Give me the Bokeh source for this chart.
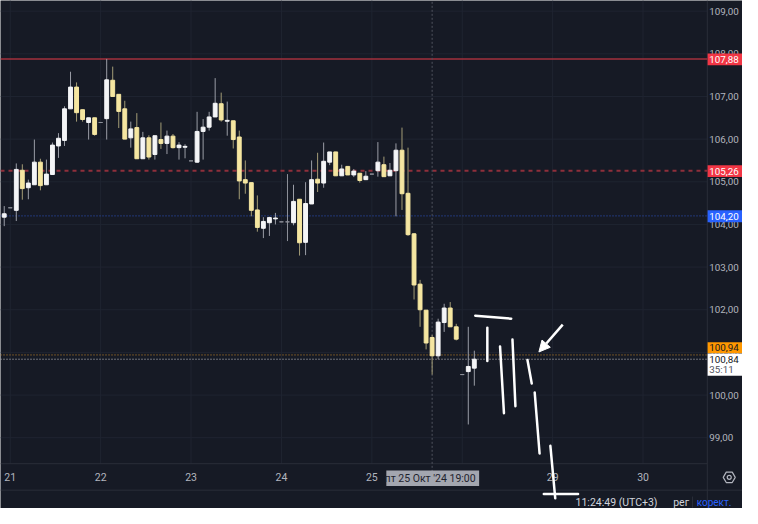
from bokeh.plotting import figure
from bokeh.models import ColumnDataSource, Arrow, NormalHead
from bokeh.core.properties import value
from bokeh.embed import file_html
from bokeh.resources import INLINE

# ---------------- data (hourly candles, index 0 = first visible bar) ----------------
opens = [104.17, 104.39, 104.33, 105.27, 104.86, 104.93, 105.46, 104.93, 105.17, 105.84,
         105.97, 106.71, 107.22, 106.69, 106.39, 106.50, 106.39, 106.48, 107.38, 107.05,
         106.71, 106.03, 106.27, 105.54, 106.03, 105.64, 105.99, 105.90, 106.07, 105.80,
         105.81, 105.49, 105.46, 106.18, 106.28, 106.52, 106.83, 106.42, 106.43, 106.05,
         105.05, 104.98, 104.34, 103.91, 104.04, 104.13, 104.06, 104.06, 104.04, 104.59,
         103.58, 104.48, 105.06, 104.97, 105.46, 105.70, 105.14, 105.36, 105.16, 105.20,
         105.05, 105.18, 105.26, 105.40, 105.14, 105.26, 105.74, 104.73, 103.78, 102.60,
         101.99, 101.35, 100.92, 101.70, 102.04, 101.60, 100.48, 100.55, 100.63]
highs = [104.43, 104.39, 105.43, 105.41, 105.05, 105.99, 105.54, 105.52, 105.92, 106.14,
         106.77, 107.58, 107.33, 106.69, 106.50, 106.50, 106.39, 107.88, 107.70, 107.05,
         106.90, 106.41, 106.61, 106.17, 106.09, 106.08, 106.39, 106.20, 106.12, 105.93,
         105.88, 105.49, 106.64, 106.47, 106.64, 107.43, 107.09, 106.88, 106.43, 106.20,
         105.50, 104.98, 104.68, 104.17, 104.18, 104.27, 104.06, 105.18, 104.93, 104.59,
         104.99, 105.50, 105.68, 105.92, 105.70, 105.70, 105.40, 105.36, 105.30, 105.20,
         105.25, 105.18, 105.93, 105.59, 105.44, 105.90, 106.27, 105.80, 103.80, 102.70,
         101.99, 101.41, 101.79, 102.14, 102.18, 101.67, 100.48, 101.60, 101.04]
lows = [103.96, 104.39, 104.08, 104.58, 104.59, 104.93, 104.80, 104.93, 105.17, 105.56,
        105.84, 106.71, 106.41, 106.41, 105.99, 106.08, 106.39, 105.99, 107.00, 106.26,
        106.00, 105.80, 105.54, 105.54, 105.52, 105.52, 105.77, 105.65, 105.78, 105.52,
        105.55, 105.49, 105.44, 105.52, 106.20, 106.52, 106.41, 106.08, 105.78, 104.59,
        104.72, 104.19, 103.83, 103.68, 103.73, 104.00, 104.06, 103.61, 103.98, 103.27,
        103.28, 104.48, 104.76, 104.86, 105.39, 105.14, 105.14, 105.16, 105.11, 104.98,
        105.04, 105.18, 105.12, 105.12, 105.14, 104.19, 104.34, 103.73, 102.24, 101.60,
        101.07, 100.48, 100.84, 101.48, 101.60, 101.28, 100.48, 99.31, 100.22]
closes = [104.25, 104.39, 105.29, 104.84, 104.97, 105.46, 104.91, 105.18, 105.86, 106.02,
          106.71, 107.22, 106.62, 106.46, 106.50, 106.11, 106.39, 107.39, 107.00, 106.65,
          106.00, 106.24, 105.54, 106.03, 105.58, 106.08, 105.90, 106.07, 105.80, 105.86,
          105.83, 105.49, 106.18, 106.28, 106.52, 106.84, 106.45, 106.44, 105.99, 105.02,
          104.97, 104.33, 103.93, 104.07, 104.16, 104.15, 104.06, 104.06, 104.54, 103.57,
          104.49, 105.05, 104.97, 105.48, 105.70, 105.14, 105.30, 105.16, 105.25, 105.03,
          105.13, 105.18, 105.46, 105.12, 105.27, 105.74, 104.72, 103.76, 102.58, 102.00,
          101.22, 100.92, 101.71, 102.04, 101.60, 101.31, 100.48, 100.67, 100.84]

day_ticks = [1, 16, 31, 46, 61, 76, 91, 106]
day_labels = ["21", "22", "23", "24", "25", "28", "29", "30"]
price_ticks = [99, 100, 101, 102, 103, 104, 105, 106, 107, 108, 109]

level_prices = [107.88, 105.26, 104.20, 100.94, 100.84]
level_tags = ["107,88", "105,26", "104,20", "100,94", "100,84"]
tag_centers = [107.87, 105.25, 104.19, 101.11, 100.84]

crosshair_bar = 71
crosshair_text = "пт 25 Окт '24   19:00"
countdown_text = "35:11"
status_time = "11:24:49 (UTC+3)"
status_session = "рег"
status_adjust = "корект."

# hand-drawn lines (bar index, price)
draw_x0 = [78.16, 80.16, 82.27, 84.33, 86.82, 88.02, 90.62, 89.53]
draw_y0 = [101.86, 101.575, 101.14, 101.30, 100.82, 100.06, 98.81, 97.68]
draw_x1 = [84.12, 80.16, 82.92, 84.82, 87.53, 88.83, 91.43, 95.22]
draw_y1 = [101.79, 100.80, 99.575, 99.74, 100.27, 98.63, 97.58, 97.68]
arrow_from = (92.67, 101.65)
arrow_to = (88.72, 101.01)

# ---------------- layout in data units ----------------
X_LEFT, X_RIGHT = -0.62, 122.5          # whole canvas
Y_BOTTOM, Y_TOP = 97.34, 109.25
CHART_RIGHT = 116.66                    # price scale starts here
CHART_BOTTOM = 98.39                    # time scale starts here
TIME_LABEL_Y = 98.07
STATUS_Y = 97.48
STATUS_LINE_Y = 97.77
PRICE_LABEL_X = 117.0

# ---------------- styling ----------------
BG = "#161a25"
GRID = "#1f2431"
BORDER = "#2a2e39"
TXT = "#b2b5be"
UP = "#f4f5f7"
DOWN = "#f5e6a1"
NEUTRAL = "#8d9099"
FONT = "Roboto"
FS = "10.5px"
FS_PRICE = "9.8px"

body_col, wick_col = [], []
for o, c in zip(opens, closes):
    if c > o:
        body_col.append(UP); wick_col.append("#9a9da6")
    elif c < o:
        body_col.append(DOWN); wick_col.append("#a39c76")
    else:
        body_col.append(NEUTRAL); wick_col.append(NEUTRAL)

src = ColumnDataSource(dict(
    x=list(range(len(opens))),
    top=[max(o, c) for o, c in zip(opens, closes)],
    bottom=[min(o, c) for o, c in zip(opens, closes)],
    high=highs, low=lows, body=body_col, wick=wick_col))

p = figure(width=742, height=508, x_range=(X_LEFT, X_RIGHT), y_range=(Y_BOTTOM, Y_TOP),
           x_axis_location=None, y_axis_location=None, output_backend="svg",
           toolbar_location=None, background_fill_color=BG, border_fill_color=BG,
           min_border=0)
p.outline_line_color = None
p.grid.visible = False

# grid lines (chart area only)
p.segment(x0=[X_LEFT] * len(price_ticks), y0=price_ticks, x1=[CHART_RIGHT] * len(price_ticks),
          y1=price_ticks, line_color=GRID, line_width=1)
p.segment(x0=day_ticks, y0=[CHART_BOTTOM] * len(day_ticks), x1=day_ticks,
          y1=[Y_TOP] * len(day_ticks), line_color=GRID, line_width=1)

# scale borders
p.segment(x0=[CHART_RIGHT, X_LEFT, X_LEFT], y0=[Y_BOTTOM, CHART_BOTTOM, STATUS_LINE_Y],
          x1=[CHART_RIGHT, CHART_RIGHT, X_RIGHT], y1=[Y_TOP, CHART_BOTTOM, STATUS_LINE_Y],
          line_color=BORDER, line_width=1)

# price scale labels
p.text(x=[PRICE_LABEL_X] * len(price_ticks), y=price_ticks,
       text=[f"{t:.2f}".replace(".", ",") for t in price_ticks],
       text_font=value(FONT), text_font_size=value(FS_PRICE), text_color=TXT,
       text_align="left", text_baseline="middle")

# time scale labels
p.text(x=day_ticks, y=[TIME_LABEL_Y] * len(day_ticks), text=day_labels,
       text_font=value(FONT), text_font_size=value(FS), text_color=TXT,
       text_align="center", text_baseline="middle")

# horizontal levels
level_styles = [("#a3303c", "solid", 1.5), ("#8f2f3b", "4 4", 2), ("#2a49a8", "1 2", 1.3),
                ("#c98a2a", "1 2", 1), ("#c8cad0", "1 2", 1)]
for lv, (col, dash, w) in zip(level_prices, level_styles):
    p.line(x=[X_LEFT, CHART_RIGHT], y=[lv, lv], line_color=col, line_dash=dash, line_width=w)

# crosshair vertical
p.line(x=[crosshair_bar, crosshair_bar], y=[98.2, Y_TOP], line_color="#50535e",
       line_dash="2 2", line_width=1)

# candles
p.segment(x0="x", y0="low", x1="x", y1="high", line_color="wick", line_width=1, source=src)
p.vbar(x="x", width=0.64, top="top", bottom="bottom", fill_color="body", line_color="body",
       line_width=1, source=src)

# drawings
p.segment(x0=draw_x0, y0=draw_y0, x1=draw_x1, y1=draw_y1, line_color="white",
          line_width=2.5, line_cap="round")
p.add_layout(Arrow(x_start=arrow_from[0], y_start=arrow_from[1], x_end=arrow_to[0], y_end=arrow_to[1],
                   line_color="white", line_width=2.5,
                   end=NormalHead(size=11, fill_color="white", line_color="white")))

# price tags
tag_fill = ["#f23645", "#f23645", "#2962ff", "#ff9800", "#ffffff"]
tag_text = ["white", "white", "white", "#131722", "#131722"]
tag_h = [0.28, 0.28, 0.28, 0.26, 0.0]
tops = [c + h / 2 for c, h in zip(tag_centers, tag_h)]
bots = [c - h / 2 for c, h in zip(tag_centers, tag_h)]
tops[4], bots[4] = 100.975, 100.45   # two-line last price box
p.quad(left=[CHART_RIGHT + 0.05] * 5, right=[X_RIGHT] * 5, top=tops, bottom=bots,
       fill_color=tag_fill, line_color=None)
p.text(x=[PRICE_LABEL_X] * 5, y=tag_centers, text=level_tags, text_font=value(FONT),
       text_font_size=value(FS_PRICE), text_color=tag_text, text_align="left",
       text_baseline="middle")
p.text(x=[PRICE_LABEL_X], y=[100.61], text=[countdown_text], text_font=value(FONT),
       text_font_size=value(FS_PRICE), text_color="#50535e", text_align="left",
       text_baseline="middle")

# crosshair time label
p.quad(left=[crosshair_bar - 7.6], right=[crosshair_bar + 7.8], top=[98.23], bottom=[97.87],
       fill_color="#a3a6af", line_color=None)
p.text(x=[crosshair_bar + 0.1], y=[98.05], text=[crosshair_text], text_font=value(FONT),
       text_font_size=value(FS), text_color="#1e222d", text_align="center", text_baseline="middle")

# gear icon
p.scatter(x=[120.3], y=[TIME_LABEL_Y], marker="hex", size=12, fill_color=None,
          line_color=TXT, line_width=1.2)
p.scatter(x=[120.3], y=[TIME_LABEL_Y], marker="circle", size=4, fill_color=None,
          line_color=TXT, line_width=1.2)

# status bar
p.text(x=[108.4], y=[STATUS_Y], text=[status_time], text_font=value(FONT),
       text_font_size=value(FS), text_color="#d1d4dc", text_align="right", text_baseline="middle")
p.text(x=[111.0], y=[STATUS_Y], text=[status_session], text_font=value(FONT),
       text_font_size=value(FS), text_color="#d1d4dc", text_align="left", text_baseline="middle")
p.segment(x0=[114.2], y0=[97.36], x1=[114.2], y1=[97.62], line_color=BORDER, line_width=1)
p.text(x=[114.9], y=[STATUS_Y], text=[status_adjust], text_font=value(FONT),
       text_font_size=value("10px"), text_color="#2962ff", text_align="left",
       text_baseline="middle")

open("out.html", "w").write(file_html(p, INLINE))
